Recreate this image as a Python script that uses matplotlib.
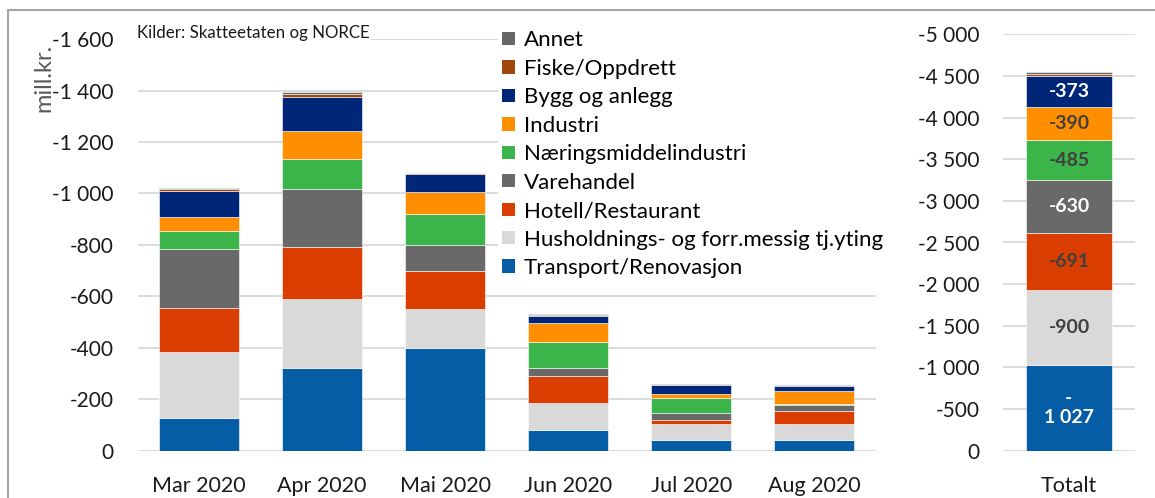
import numpy as np
import matplotlib
matplotlib.use('Agg')
import matplotlib.pyplot as plt
from matplotlib.patches import Patch
from matplotlib.lines import Line2D
from matplotlib.ticker import FuncFormatter, MultipleLocator

plt.rcParams['font.family'] = ['Lato', 'DejaVu Sans']

months = ['Mar 2020', 'Apr 2020', 'Mai 2020', 'Jun 2020', 'Jul 2020', 'Aug 2020']

# sectors in stacking order, bottom first
sectors = ['Transport/Renovasjon', 'Husholdnings- og forr.messig tj.yting',
           'Hotell/Restaurant', 'Varehandel', 'Næringsmiddelindustri',
           'Industri', 'Bygg og anlegg', 'Fiske/Oppdrett', 'Annet']

transport = [-128, -320, -401, -82, -40, -40]
husholdning = [-254, -268, -148, -103, -65, -65]
hotell = [-171, -203, -149, -106, -15, -48]
varehandel = [-230, -225, -100, -30, -26, -23]
naering = [-71, -119, -122, -102, -59, -4]
industri = [-55, -109, -86, -72, -15, -52]
bygg = [-101, -129, -68, -29, -36, -18]
fiske = [-6, -15, -4, -4, -1, -1]
annet = [-4, -5, -3, -5, -2, -3]

totalt = [-1027, -900, -691, -630, -485, -390, -373, -22, -28]

series = [transport, husholdning, hotell, varehandel, naering,
          industri, bygg, fiske, annet]

colors = ['#055da6', '#d9d9d9', '#d93d00', '#696969', '#3bb44a',
          '#ff8f00', '#00267a', '#9e480e', '#666666']
label_colors = ['white', '#404040', '#404040', 'white', '#404040',
                '#404040', 'white', None, None]

W, H = 1155, 498


def thousands(v, pos=None):
    return f'{v:,.0f}'.replace(',', ' ')


def seg_label(v):
    s = thousands(v)
    # wide values wrap after the minus sign
    if abs(v) >= 1000:
        s = '-\n' + s[1:]
    return s


fig = plt.figure(figsize=(W / 100, H / 100), dpi=100)

ax = fig.add_axes([137.5 / W, 1 - 450.7 / H, (876 - 137.5) / W, (450.7 - 39.1) / H])
ax2 = fig.add_axes([1003 / W, 1 - 450.7 / H, 132 / W, (450.7 - 34.3) / H])

x = np.arange(len(months))
bottom = np.zeros(len(months))
for vals, c in zip(series, colors):
    vals = np.array(vals, dtype=float)
    ax.bar(x, vals, 0.65, bottom=bottom, color=c, edgecolor='white', linewidth=0.4)
    bottom += vals

ax.set_xlim(-0.5, len(months) - 0.5)
ax.set_ylim(0, -1600)
ax.set_xticks(x)
ax.set_xticklabels(months)

b = 0.0
for v, c, lc in zip(totalt, colors, label_colors):
    ax2.bar(0, v, 0.65, bottom=b, color=c, edgecolor='white', linewidth=0.4)
    if lc is not None:
        ax2.text(0, b + v / 2, seg_label(v), ha='center', va='center',
                 color=lc, fontsize=14, fontweight='bold', linespacing=1.1)
    b += v

ax2.set_xlim(-0.5, 0.5)
ax2.set_ylim(0, -5000)
ax2.set_xticks([0])
ax2.set_xticklabels(['Totalt'])

for a, step in ((ax, 200), (ax2, 500)):
    a.yaxis.set_major_locator(MultipleLocator(step))
    a.yaxis.set_major_formatter(FuncFormatter(thousands))
    a.yaxis.grid(True, color='#d9d9d9', linewidth=1.3)
    a.set_axisbelow(True)
    for s in a.spines.values():
        s.set_visible(False)
    a.tick_params(axis='y', length=0, pad=17, labelsize=15, labelcolor='#1a1a1a')
    a.tick_params(axis='x', length=0, pad=18, labelsize=15.5, labelcolor='#1a1a1a')

fig.text(44 / W, 1 - 78 / H, 'mill.kr.', rotation=90, color='#595959',
         fontsize=17, ha='center', va='center')
fig.text(137 / W, 1 - 33 / H, 'Kilder: Skatteetaten og NORCE', va='center',
         fontsize=12.2, color='#1a1a1a',
         bbox=dict(facecolor='white', edgecolor='none', pad=1))

handles = [Patch(facecolor=c, edgecolor='none', label=n)
           for n, c in zip(sectors, colors)][::-1]
fig.legend(handles=handles, loc='upper left', bbox_to_anchor=(498 / W, 1 - 26 / H),
           frameon=True, facecolor='white', edgecolor='none', framealpha=1,
           fontsize=16, handlelength=0.55, handleheight=0.55, handletextpad=0.4,
           labelspacing=0.38, borderpad=0.2, borderaxespad=0)

# outer frame, top and left edges
fig.add_artist(Line2D([8 / W, 8 / W], [0, 1 - 10 / H], transform=fig.transFigure,
                      color='#a6a6a6', linewidth=1.5))
fig.add_artist(Line2D([8 / W, 1], [1 - 10 / H, 1 - 10 / H], transform=fig.transFigure,
                      color='#a6a6a6', linewidth=1.5))

fig.savefig('out.png', dpi=100)
